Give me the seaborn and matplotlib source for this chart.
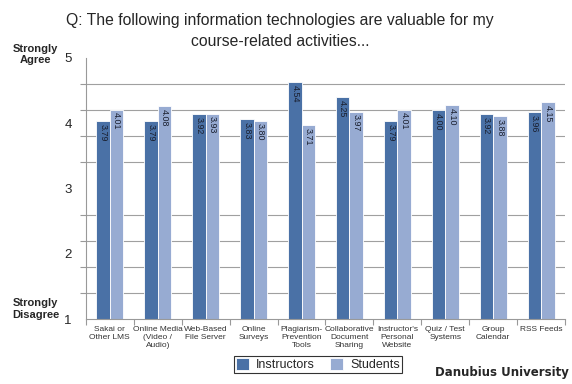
import numpy as np
import pandas as pd
import matplotlib.pyplot as plt
import seaborn as sns

# ===== data =====
categories = ["Sakai or\nOther LMS", "Online Media\n(Video /\nAudio)", "Web-Based\nFile Server",
              "Online\nSurveys", "Plagiarism-\nPrevention\nTools", "Collaborative\nDocument\nSharing",
              "Instructor's\nPersonal\nWebsite", "Quiz / Test\nSystems", "Group\nCalendar", "RSS Feeds"]
instructors = [3.79, 3.79, 3.92, 3.83, 4.54, 4.25, 3.79, 4.00, 3.92, 3.96]
students = [4.01, 4.08, 3.93, 3.80, 3.71, 3.97, 4.01, 4.10, 3.88, 4.15]
groups = ["Instructors", "Students"]
ytick_labels = ["1", "2", "3", "4", "5"]

df = pd.DataFrame({
    "category": categories * 2,
    "score": instructors + students,
    "group": [groups[0]] * len(categories) + [groups[1]] * len(categories),
})

sns.set_style("white")
plt.rcParams['font.family'] = ['Liberation Sans', 'DejaVu Sans']

fig = plt.figure(figsize=(5.72, 3.84), dpi=100)
ax = fig.add_axes([0.150, 0.169, 0.838, 0.680])

ax = sns.barplot(data=df, x="category", y="score", hue="group",
                 palette=["#4a71a6", "#97abd2"], saturation=1, width=0.56,
                 edgecolor="white", linewidth=0.6, ax=ax, legend=True)

# value labels, rotated, inside the top of each bar
for container in ax.containers:
    for bar in container:
        h = bar.get_height()
        ax.text(bar.get_x() + bar.get_width() / 2, h - 0.05, f"{h:.2f}",
                rotation=270, ha='center', va='top', fontsize=6.4, color='#1a1f2e')

ax.set_ylim(0, 5)
ax.set_xlim(-0.5, len(categories) - 0.5)

# gridlines/tick marks every 0.5, labels 1..5 spread evenly
ax.set_yticks(np.arange(0, 5.01, 0.5), minor=True)
ax.set_yticks(np.linspace(0, 5, len(ytick_labels)))
ax.set_yticklabels(ytick_labels, fontsize=9.5)
ax.tick_params(axis='y', which='major', length=0, pad=10)
ax.tick_params(axis='y', which='minor', length=4, color='#999999', width=0.8, left=True)
ax.grid(axis='y', which='minor', color='#a0a0a0', linewidth=0.8)
ax.set_axisbelow(True)

ax.set_xticks(np.arange(-0.5, len(categories), 1.0), minor=True)
ax.tick_params(axis='x', which='major', length=0, labelsize=6, labelcolor='#333333', pad=5)
ax.tick_params(axis='x', which='minor', length=4, color='#999999', width=0.8, bottom=True)

ax.set_xlabel("")
ax.set_ylabel("")
for s in ["top", "right"]:
    ax.spines[s].set_visible(False)
for s in ["left", "bottom"]:
    ax.spines[s].set_color('#999999')
    ax.spines[s].set_linewidth(0.8)

leg = ax.legend(loc='center', bbox_to_anchor=(0.556, 0.05), bbox_transform=fig.transFigure,
                ncol=2, fontsize=9, frameon=True, fancybox=False, edgecolor='black',
                handlelength=1.0, handleheight=1.0, columnspacing=1.2, borderpad=0.15,
                handletextpad=0.6)
leg.get_frame().set_linewidth(0.8)

fig.text(0.49, 0.967, "Q: The following information technologies are valuable for my\ncourse-related activities...",
         ha='center', va='top', fontsize=11.3, linespacing=1.5)
fig.text(0.062, 0.858, "Strongly\nAgree", ha='center', va='center', fontsize=8, fontweight='bold')
fig.text(0.062, 0.195, "Strongly\nDisagree", ha='center', va='center', fontsize=8, fontweight='bold')
fig.text(0.995, 0.012, "Danubius University", ha='right', va='bottom', fontsize=8.5,
         fontweight='bold', family='DejaVu Sans')

fig.savefig("out.png", dpi=100)
